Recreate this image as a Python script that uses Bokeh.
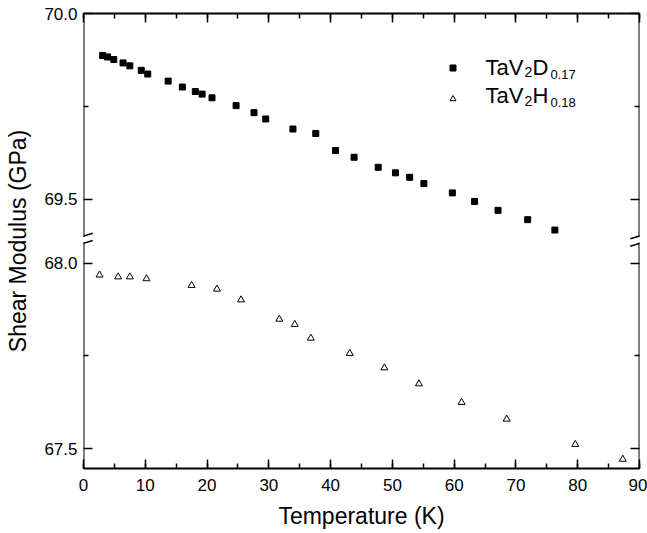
from bokeh.plotting import figure
from bokeh.models import (Range1d, LinearAxis, FixedTicker, SingleIntervalTicker, Arrow,
                          Label, Legend, LegendItem, ColumnDataSource, CustomJSTickFormatter)
from bokeh.embed import file_html
from bokeh.resources import INLINE

# ---------------- data ----------------
temp_d = [3.1, 3.9, 4.9, 6.4, 7.5, 9.35, 10.4, 13.7, 16.0, 18.1, 19.2, 20.8, 24.7, 27.6,
          29.5, 33.9, 37.6, 40.8, 43.8, 47.7, 50.5, 52.8, 55.1, 59.7, 63.3, 67.1, 71.9, 76.3]
mod_d = [69.887, 69.883, 69.876, 69.867, 69.859, 69.847, 69.837, 69.818, 69.802, 69.790,
         69.783, 69.773, 69.752, 69.733, 69.716, 69.689, 69.677, 69.631, 69.613, 69.586,
         69.571, 69.559, 69.542, 69.517, 69.494, 69.470, 69.445, 69.417]
temp_h = [2.6, 5.6, 7.5, 10.2, 17.5, 21.6, 25.5, 31.7, 34.2, 36.8, 43.1, 48.7, 54.3, 61.2,
          68.5, 79.6, 87.3]
mod_h = [67.968, 67.963, 67.963, 67.958, 67.940, 67.930, 67.901, 67.849, 67.835, 67.798,
         67.757, 67.718, 67.675, 67.625, 67.580, 67.512, 67.472]

y_lower_major = [67.5, 68.0]
y_lower_minor = [67.75]
y_upper_major = [69.5, 70.0]
y_upper_minor = [69.75]
y_lower_labels = ["67.5", "68.0"]
y_upper_labels = ["69.5", "70.0"]

# ---------------- broken-axis geometry ----------------
Y_TOP = 70.0          # top of upper segment
OFF = 1.328           # amount of y removed by the break
LOW_START = 67.447    # bottom of lower segment
BRK = 68.063          # break position (lower-segment units)
GAP = 0.0099

FONT = "Liberation Sans"

# frame in page pixels
FL, FR, FT, FB = 83, 639, 13, 468
W, H = 647, 533

p = figure(width=W, height=H, output_backend="svg", toolbar_location=None,
           x_range=Range1d(0, 90), y_range=Range1d(LOW_START, Y_TOP - OFF),
           x_axis_location=None, y_axis_location=None,
           min_border_left=FL, min_border_right=W - FR, min_border_top=FT,
           min_border_bottom=H - FB)
p.extra_y_ranges = {"upper": Range1d(LOW_START + OFF, Y_TOP)}
p.xgrid.visible = False
p.ygrid.visible = False
p.outline_line_color = None
p.background_fill_color = "white"
p.border_fill_color = "white"

# y ticks (single axis in lower-segment units, upper values shifted by OFF)
y_ticks = list(y_lower_major) + [v - OFF for v in y_upper_major]
y_minor = list(y_lower_minor) + [v - OFF for v in y_upper_minor]
y_over = {}
for v, s in zip(y_lower_major, y_lower_labels):
    y_over[v] = s
for v, s in zip(y_upper_major, y_upper_labels):
    y_over[v - OFF] = s


def style(ax, labels=True):
    ax.major_tick_in = 9
    ax.major_tick_out = 0
    ax.minor_tick_in = 5
    ax.minor_tick_out = 0
    ax.major_tick_line_width = 1.5
    ax.minor_tick_line_width = 1.5
    ax.major_tick_line_color = "black"
    ax.minor_tick_line_color = "black"
    ax.axis_line_width = 2
    ax.axis_line_color = "black"
    ax.major_label_text_font = FONT
    ax.major_label_text_color = "black"
    ax.axis_label_text_font = FONT
    ax.axis_label_text_font_style = "normal"
    ax.axis_label_text_color = "black"
    ax.axis_label_text_font_size = "23px"
    if labels:
        ax.major_label_text_font_size = "17px"
    else:
        ax.formatter = CustomJSTickFormatter(code="return ''")
        ax.major_label_text_font_size = "0px"
        ax.major_label_standoff = 0


bottom = LinearAxis(ticker=SingleIntervalTicker(interval=10, num_minor_ticks=2),
                    axis_label="Temperature (K)")
style(bottom)
bottom.major_label_standoff = 10
bottom.axis_label_standoff = 9
p.add_layout(bottom, "below")

top = LinearAxis(ticker=SingleIntervalTicker(interval=10, num_minor_ticks=2))
style(top, labels=False)
p.add_layout(top, "above")

left = LinearAxis(ticker=FixedTicker(ticks=y_ticks, minor_ticks=y_minor),
                  axis_label="Shear Modulus (GPa)", major_label_overrides=y_over)
style(left)
left.axis_line_color = None
left.major_label_standoff = 6
left.axis_label_standoff = 10
p.add_layout(left, "left")

right = LinearAxis(ticker=FixedTicker(ticks=y_ticks, minor_ticks=y_minor))
style(right, labels=False)
right.axis_line_color = None
p.add_layout(right, "right")

# spines with break marks
for xs in (0, 90):
    p.add_layout(Arrow(end=None, x_start=xs, y_start=LOW_START, x_end=xs, y_end=BRK - GAP,
                       line_width=2, line_color="black", line_cap="square"))
    p.add_layout(Arrow(end=None, x_start=xs, y_start=BRK + GAP, x_end=xs, y_end=Y_TOP - OFF,
                       line_width=2, line_color="black", line_cap="square"))
    for s in (-GAP, GAP):
        p.add_layout(Arrow(end=None, x_start=xs - 1.5, y_start=BRK + s - 0.0075,
                           x_end=xs + 1.5, y_end=BRK + s + 0.0075,
                           line_width=1.5, line_color="black"))

# data
src_d = ColumnDataSource(dict(t=temp_d, g=mod_d))
src_h = ColumnDataSource(dict(t=temp_h, g=mod_h))
r_d = p.scatter("t", "g", source=src_d, y_range_name="upper", marker="square", size=6,
                fill_color="black", line_color="black")
r_h = p.scatter("t", "g", source=src_h, marker="triangle", size=7,
                fill_color="white", line_color="black", line_width=1)

# legend markers (glyph centre at about page (452, 67.5))
legend = Legend(items=[LegendItem(label=" ", renderers=[r_d]),
                       LegendItem(label=" ", renderers=[r_h])],
                location=(452 - FL - 7.5, FB - 45 - 67.5), glyph_width=15, glyph_height=15,
                label_height=28, spacing=3, padding=10, margin=0, border_line_color=None,
                background_fill_alpha=0, label_text_font_size="22px")
p.add_layout(legend)


# legend texts with subscripts (positions converted from layout pixels)
def px2x(px):
    return (px - FL) * 90.0 / (FR - FL)


def py2y(py):
    return LOW_START + (FB - py) * (Y_TOP - OFF - LOW_START) / (FB - FT)


def lab(text, px, py, size):
    p.add_layout(Label(x=px2x(px), y=py2y(py), text=text, text_font=FONT,
                       text_font_size=size, text_color="black",
                       text_align="left", text_baseline="alphabetic"))


for base, el, sub, py in (("TaV", "D", "0.17", 66.5), ("TaV", "H", "0.18", 95.0)):
    lab(base, 485, py, "22px")
    lab("2", 524, py + 5, "14px")
    lab(el, 532, py, "22px")
    lab(sub, 550, py + 7, "13px")

open("out.html", "w").write(file_html(p, INLINE))
